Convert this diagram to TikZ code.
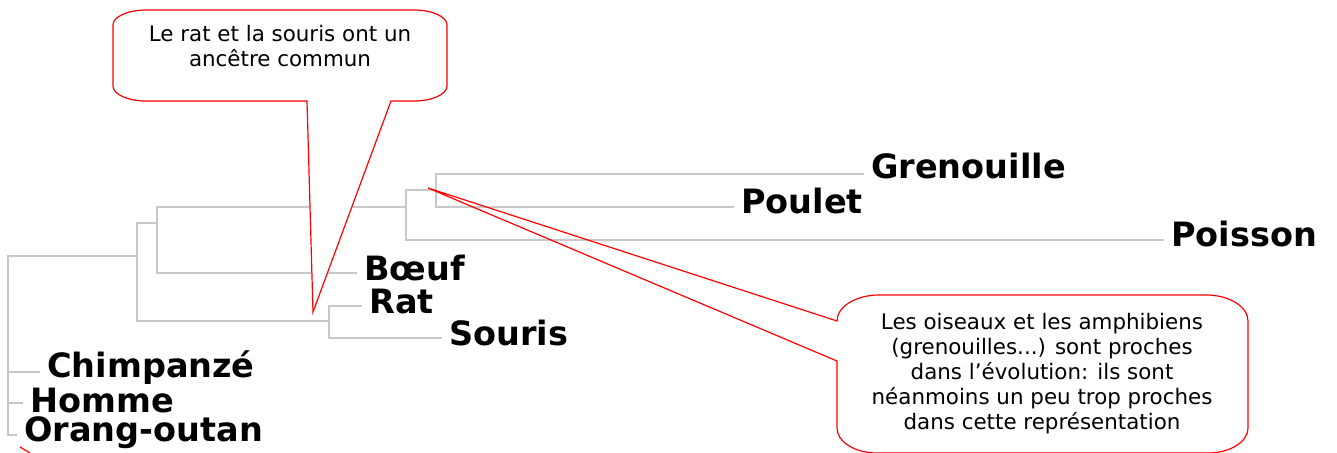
\documentclass[tikz,border=0pt]{standalone}
\usepackage{fontspec}
\newfontfamily\taxonfont{DejaVu Sans}
\newfontfamily\notefont{DejaVu Sans}
\definecolor{branchgray}{RGB}{200,200,200}
\definecolor{calloutred}{RGB}{255,0,0}
\tikzset{
  branch/.style={draw=branchgray, line width=2pt, line cap=rect},
  taxon/.style={anchor=base west, inner xsep=8pt, inner ysep=0pt,
    font=\taxonfont\bfseries\fontsize{33.5}{36}\selectfont},
  callout/.style={draw=calloutred, line width=1.2pt, line join=miter},
  note/.style={anchor=north, inner sep=0pt, align=center,
    font=\notefont\fontsize{21.4}{25}\selectfont}
}
\begin{document}
\begin{tikzpicture}[x=1pt,y=-1pt]
\useasboundingbox (0,0) rectangle (1337,452);

% taxa
\node[taxon] (gren)  at (863,178)  {Grenouille};
\node[taxon] (poul)  at (733,213)  {Poulet};
\node[taxon] (pois)  at (1163,246) {Poisson};
\node[taxon] (boeuf) at (356,280)  {Bœuf};
\node[taxon] (rat)   at (361,313)  {Rat};
\node[taxon] (sour)  at (441,345)  {Souris};
\node[taxon] (chimp) at (39,377)   {Chimpanzé};
\node[taxon] (homme) at (22,412)   {Homme};
\node[taxon] (orang) at (16,441)   {Orang-outan};

% root and primates
\coordinate (root) at (8,256);
\coordinate (pc) at (8,372);
\coordinate (ph) at (8,403);
\coordinate (po) at (8,435);
\draw[branch] (root) -- (po);
\draw[branch] (pc) -- (pc -| chimp.west);
\draw[branch] (ph) -- (ph -| homme.west);
\draw[branch] (po) -- (po -| orang.west);

% remaining vertebrates
\coordinate (m)   at (137,223);
\coordinate (mr)  at (137,321);
\draw[branch] (root) -- (root -| m);
\draw[branch] (m) -- (mr);

\coordinate (ub)  at (157,207);
\coordinate (ubb) at (157,273);
\draw[branch] (m) -- (m -| ub);
\draw[branch] (ub) -- (ubb);
\draw[branch] (ubb) -- (ubb -| boeuf.west);

\coordinate (t)  at (406,190);
\coordinate (tb) at (406,240);
\draw[branch] (ub) -- (ub -| t);
\draw[branch] (t) -- (tb);
\draw[branch] (tb) -- (tb -| pois.west);

\coordinate (b)  at (436,174);
\coordinate (bb) at (436,207);
\draw[branch] (t) -- (t -| b);
\draw[branch] (b) -- (bb);
\draw[branch] (b) -- (b -| gren.west);
\draw[branch] (bb) -- (bb -| poul.west);

% rodents
\coordinate (r)  at (329,306);
\coordinate (rb) at (329,338);
\draw[branch] (mr) -- (mr -| r);
\draw[branch] (r) -- (rb);
\draw[branch] (r) -- (r -| rat.west);
\draw[branch] (rb) -- (rb -| sour.west);

% callout: rat and mouse
\coordinate (tipA) at (313,312);
\draw[callout, fill=white]
  (307,101) -- (146,101) .. controls (127.8,101) and (113,94.3) .. (113,86)
  -- (113,25) .. controls (113,16.7) and (127.8,10) .. (146,10)
  -- (414,10) .. controls (432.2,10) and (447,16.7) .. (447,25)
  -- (447,86) .. controls (447,94.3) and (432.2,101) .. (414,101)
  -- (391,101) -- (tipA) -- cycle;
\node[note] (noteA) at (280,25.5) {Le rat et la souris ont un\\ancêtre commun};

% callout: birds and amphibians
\coordinate (tipB) at (428,188);
\draw[callout]
  (837,361) -- (837,428) .. controls (837,441.8) and (854.9,453) .. (877,453)
  -- (1208,453) .. controls (1230.1,453) and (1248,441.8) .. (1248,428)
  -- (1248,321) .. controls (1248,306.6) and (1229.2,295) .. (1206,295)
  -- (879,295) .. controls (855.8,295) and (837,306.6) .. (837,321)
  -- (tipB) -- cycle;
\node[note] (noteB) at (1042,312.7) {Les oiseaux et les amphibiens\\(grenouilles...) sont proches\\dans l’évolution: ils sont\\néanmoins un peu trop proches\\dans cette représentation};

% edge of a further outline below
\draw[callout] (20,447) -- (30,453);
\end{tikzpicture}
\end{document}
